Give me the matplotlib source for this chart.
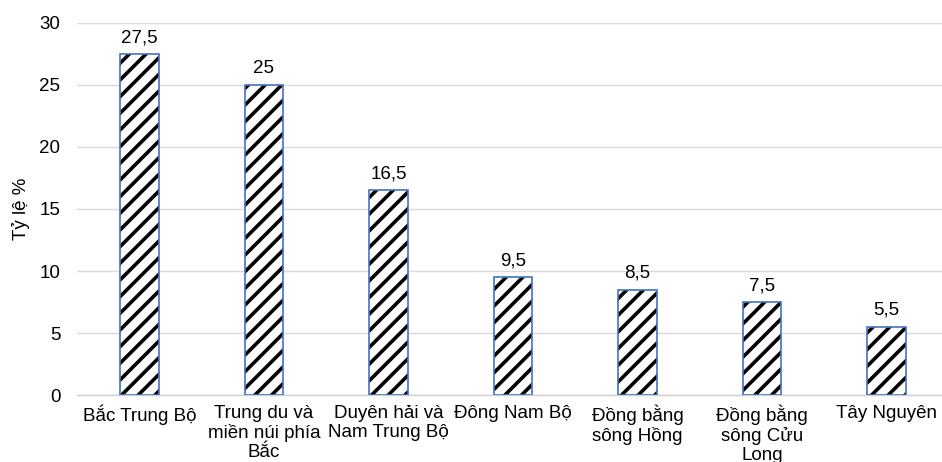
import matplotlib
matplotlib.use("Agg")
import matplotlib.pyplot as plt
import numpy as np

# dữ liệu
regions = ["Bắc Trung Bộ", "Trung du và\nmiền núi phía\nBắc", "Duyên hải và\nNam Trung Bộ",
           "Đông Nam Bộ", "Đồng bằng\nsông Hồng", "Đồng bằng\nsông Cửu\nLong", "Tây Nguyên"]
values = [27.5, 25, 16.5, 9.5, 8.5, 7.5, 5.5]
yticks = [0, 5, 10, 15, 20, 25, 30]

plt.rcParams['font.family'] = ['Liberation Sans', 'DejaVu Sans']
plt.rcParams['hatch.linewidth'] = 2.6

FS = 13.5
W, H = 942, 462
fig = plt.figure(figsize=(W / 100, H / 100), dpi=100)
ax = fig.add_axes([77 / W, 67 / H, 872 / W, 372 / H])

x = np.arange(len(regions))
# lớp sọc đen
ax.bar(x, values, width=0.31, facecolor='white', edgecolor='black',
       linewidth=0, hatch='//', zorder=3)
# viền xanh
ax.bar(x, values, width=0.31, facecolor='none', edgecolor='#4472C4',
       linewidth=1.2, zorder=4)

for xi, v in zip(x, values):
    txt = f"{v:g}".replace('.', ',')
    ax.annotate(txt, (xi, v), xytext=(0, 8.5), textcoords='offset points',
                ha='center', va='baseline', fontsize=FS, color='black')

ax.set_xlim(-0.5, len(regions) - 0.5)
ax.set_ylim(0, 30)
ax.set_yticks(yticks)
ax.set_xticks(x)
ax.set_xticklabels(regions, fontsize=FS, linespacing=1.15)
ax.tick_params(axis='y', length=0, pad=12, labelsize=FS)
ax.tick_params(axis='x', length=0, pad=7)
ax.grid(axis='y', color='#d9d9d9', linewidth=1.0, zorder=0)
for s in ['top', 'right', 'left']:
    ax.spines[s].set_visible(False)
ax.spines['bottom'].set_color('#d0d0d0')
ax.spines['bottom'].set_linewidth(1.0)

ax.set_ylabel("Tỷ lệ %", fontsize=FS, labelpad=7)

fig.savefig("out.png", dpi=100)
